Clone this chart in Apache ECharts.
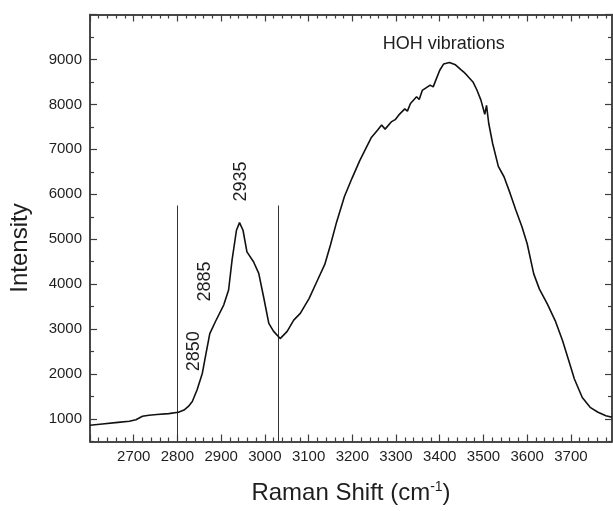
<!DOCTYPE html>
<html><head><meta charset="utf-8">
<script src="https://cdn.jsdelivr.net/npm/echarts@6/dist/echarts.min.js"></script>
<style>html,body{margin:0;padding:0;background:#fff}#c{width:613px;height:511px}</style>
</head><body><div id="c"></div>
<script>
// ---- data ----
const ramanShift = [2600,2628,2664,2690,2705,2720,2735,2753,2780,2802,2815,2825,2834,2845,2857,2864,2874,2887,2906,2917,2925,2935,2942,2950,2959,2974,2986,2997,3009,3020,3035,3051,3066,3081,3101,3119,3137,3150,3164,3182,3199,3217,3231,3244,3258,3267,3275,3289,3298,3306,3320,3326,3333,3347,3353,3360,3378,3385,3391,3400,3409,3422,3436,3449,3455,3462,3476,3485,3494,3503,3507,3512,3521,3534,3547,3561,3574,3588,3600,3615,3628,3646,3664,3681,3695,3708,3726,3744,3762,3780,3794];
const intensity  = [860,889,926,950,985,1060,1085,1100,1120,1150,1200,1280,1390,1650,2020,2390,2900,3170,3540,3870,4540,5200,5370,5200,4720,4500,4240,3720,3130,2950,2790,2950,3200,3350,3680,4060,4440,4870,5380,5950,6350,6750,7020,7270,7430,7540,7450,7610,7660,7760,7900,7850,8020,8170,8110,8310,8430,8390,8540,8760,8900,8930,8880,8770,8720,8650,8500,8320,8100,7780,7980,7580,7130,6620,6390,6020,5650,5280,4900,4230,3890,3560,3190,2740,2300,1890,1480,1260,1150,1075,1040];

const xTickLabels = [2700,2800,2900,3000,3100,3200,3300,3400,3500,3600,3700];
const xMajorTicks = [2600].concat(xTickLabels);
const yTickLabels = [1000,2000,3000,4000,5000,6000,7000,8000,9000];
const yMajorTicks = yTickLabels.concat([10000]);

const markerLinesX = [2800, 3030];
const markerLineTop = 5750;

const peakLabels = ['2850','2885','2935'];
const peakLabelX = [2837, 2862, 2946];
const peakLabelY = [2507, 4062, 6284];

const bandLabel = 'HOH vibrations';
const bandLabelX = 3409;
const bandLabelY = 9340;

const X_MIN = 2600, X_MAX = 3794, Y_MIN = 500, Y_MAX = 10000;

// minor tick positions (axis decoration)
const xMinorTicks = [];
for (let v = X_MIN; v <= X_MAX; v += 20) if (v % 100 !== 0) xMinorTicks.push(v);
const yMinorTicks = [];
for (let v = Y_MIN; v <= Y_MAX; v += 500) if (v % 1000 !== 0) yMinorTicks.push(v);

const FONT = 'Liberation Sans, Arial, sans-serif';
const AX = '#3c3c3c';
const TXT = '#1e1e1e';

function xAxisDef(pos, ticks, len, extra) {
  return Object.assign({
    type: 'value', position: pos, min: X_MIN, max: X_MAX,
    axisLine: { show: true, onZero: false, lineStyle: { color: AX, width: 1.5 } },
    axisTick: { show: true, inside: true, length: len, customValues: ticks, lineStyle: { color: AX, width: 1.2 } },
    axisLabel: { show: false },
    splitLine: { show: false }
  }, extra || {});
}
function yAxisDef(pos, ticks, len, extra) {
  return Object.assign({
    type: 'value', position: pos, min: Y_MIN, max: Y_MAX,
    axisLine: { show: true, onZero: false, lineStyle: { color: AX, width: 1.5 } },
    axisTick: { show: true, inside: true, length: len, customValues: ticks, lineStyle: { color: AX, width: 1.2 } },
    axisLabel: { show: false },
    splitLine: { show: false }
  }, extra || {});
}

const chart = echarts.init(document.getElementById('c'), null, { renderer: 'canvas' });
chart.setOption({
  animation: false,
  backgroundColor: '#fff',
  grid: { left: 89, top: 14.5, width: 523, height: 427, containLabel: false },
  xAxis: [
    xAxisDef('bottom', xMajorTicks, 7, {
      axisLabel: { show: true, customValues: xTickLabels, margin: 8, fontSize: 15, color: TXT, fontFamily: FONT,
        formatter: v => String(v) },
      name: 'Raman Shift (cm{sup|-1})',
      nameLocation: 'middle', nameGap: 39,
      nameTextStyle: { fontSize: 24, color: TXT, fontFamily: FONT,
        rich: { sup: { fontSize: 14, color: TXT, fontFamily: FONT, verticalAlign: 'bottom', padding: [0, 0, 12, 0] } } }
    }),
    xAxisDef('bottom', xMinorTicks, 4),
    xAxisDef('top', xMajorTicks, 7),
    xAxisDef('top', xMinorTicks, 4)
  ],
  yAxis: [
    yAxisDef('left', yMajorTicks, 7, {
      axisLabel: { show: true, customValues: yTickLabels, margin: 8, fontSize: 15, color: TXT, fontFamily: FONT,
        formatter: v => String(v) },
      name: 'Intensity', nameLocation: 'middle', nameRotate: 90, nameGap: 58,
      nameTextStyle: { fontSize: 24, color: TXT, fontFamily: FONT, padding: [0, 40, 0, 0] }
    }),
    yAxisDef('left', yMinorTicks, 4),
    yAxisDef('right', yMajorTicks, 7),
    yAxisDef('right', yMinorTicks, 4)
  ],
  series: [
    {
      type: 'line', xAxisIndex: 0, yAxisIndex: 0,
      data: ramanShift.map((x, i) => [x, intensity[i]]),
      showSymbol: false, symbol: 'none',
      lineStyle: { color: '#111', width: 1.6 },
      z: 5,
      markLine: {
        silent: true, symbol: ['none', 'none'],
        label: { show: false },
        lineStyle: { color: '#333', width: 1, type: 'solid' },
        data: markerLinesX.map(x => [{ coord: [x, Y_MIN] }, { coord: [x, markerLineTop] }])
      }
    },
    {
      type: 'scatter', xAxisIndex: 0, yAxisIndex: 0, silent: true,
      symbolSize: 1, itemStyle: { color: 'rgba(0,0,0,0)' },
      data: peakLabels.map((t, i) => ({ name: t, value: [peakLabelX[i], peakLabelY[i]] })),
      label: { show: true, position: 'inside', rotate: 90, formatter: p => p.name,
        fontSize: 18, color: TXT, opacity: 1, fontFamily: FONT }
    },
    {
      type: 'scatter', xAxisIndex: 0, yAxisIndex: 0, silent: true,
      symbolSize: 1, itemStyle: { color: 'rgba(0,0,0,0)' },
      data: [{ name: bandLabel, value: [bandLabelX, bandLabelY] }],
      label: { show: true, position: 'inside', formatter: p => p.name,
        fontSize: 18, color: TXT, opacity: 1, fontFamily: FONT }
    }
  ]
});
</script></body></html>
